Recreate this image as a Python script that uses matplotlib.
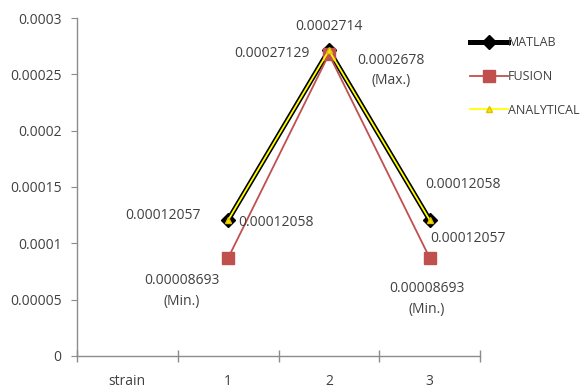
import numpy as np
import matplotlib.pyplot as plt
from matplotlib.ticker import FixedLocator, FuncFormatter

plt.rcParams['font.family'] = ['Open Sans', 'DejaVu Sans']

categories = ['strain', '1', '2', '3']
matlab = [np.nan, 0.00012057, 0.0002714, 0.00012058]
fusion = [np.nan, 0.00008693, 0.0002678, 0.00008693]
analytical = [np.nan, 0.00012058, 0.00027129, 0.00012057]
y_ticks = [0, 0.00005, 0.0001, 0.00015, 0.0002, 0.00025, 0.0003]
y_tick_labels = ['0', '0.00005', '0.0001', '0.00015', '0.0002', '0.00025', '0.0003']

TEXT = '#404040'
AXIS = '#8c8c8c'
FS = 10

fig = plt.figure(figsize=(5.87, 3.92), dpi=100)
ax = fig.add_axes([0.131, 0.092, 0.687, 0.862])
x = np.arange(len(categories))

ax.plot(x, matlab, color='black', lw=3.6, marker='D', ms=7, mfc='black',
        mec='black', label='MATLAB', zorder=3)
ax.plot(x, fusion, color='#C0504D', lw=1.3, marker='s', ms=8, mfc='#C0504D',
        mec='#C0504D', label='FUSION', zorder=4)
ax.plot(x, analytical, color='#FFFF00', lw=1.3, marker='^', ms=5,
        mfc='#F5E400', mec='#E0C000', label='ANALYTICAL', zorder=5)

ax.set_xlim(-0.5, len(categories) - 0.5)
ax.set_ylim(0, 0.0003)
ax.set_xticks(x)
ax.set_xticklabels(categories)
ax.xaxis.set_minor_locator(FixedLocator(np.arange(-0.5, len(categories), 1.0)))
ax.tick_params(axis='x', which='major', length=0, pad=13, labelsize=FS,
               labelcolor=TEXT)
ax.tick_params(axis='x', which='minor', length=8, direction='inout',
               color=AXIS, width=1)
ax.yaxis.set_major_locator(FixedLocator(y_ticks))
ax.yaxis.set_major_formatter(FuncFormatter(lambda v, i: y_tick_labels[i]))
ax.tick_params(axis='y', length=4, color=AXIS, labelsize=FS,
               labelcolor=TEXT, pad=7)
for side in ('top', 'right'):
    ax.spines[side].set_visible(False)
for side in ('left', 'bottom'):
    ax.spines[side].set_color(AXIS)
    ax.spines[side].set_linewidth(1)


def label(xi, yi, text, dx, dy):
    ax.annotate(text, (xi, yi), xytext=(dx, dy), textcoords='offset pixels',
                ha='center', va='center', fontsize=FS, color=TEXT,
                linespacing=1.5, zorder=6)


# value labels around each point
label(2, matlab[2], '0.0002714', 0, 24)
label(2, analytical[2], '0.00027129', -57, -3)
label(2, fusion[2], '0.0002678\n(Max.)', 62, -16)
label(1, matlab[1], '0.00012057', -65, 5)
label(1, analytical[1], '0.00012058', 48, -2)
label(1, fusion[1], '0.00008693\n(Min.)', -46, -33)
label(3, matlab[3], '0.00012058', 33, 36)
label(3, analytical[3], '0.00012057', 38, -18)
label(3, fusion[3], '0.00008693\n(Min.)', -3, -41)

leg = fig.legend(loc='upper left', bbox_to_anchor=(0.793, 0.92), frameon=False,
                 fontsize=9, handlelength=3.0, handletextpad=0.0,
                 labelspacing=1.65, borderaxespad=0)
for t in leg.get_texts():
    t.set_color(TEXT)

fig.savefig('out.png', dpi=100)
